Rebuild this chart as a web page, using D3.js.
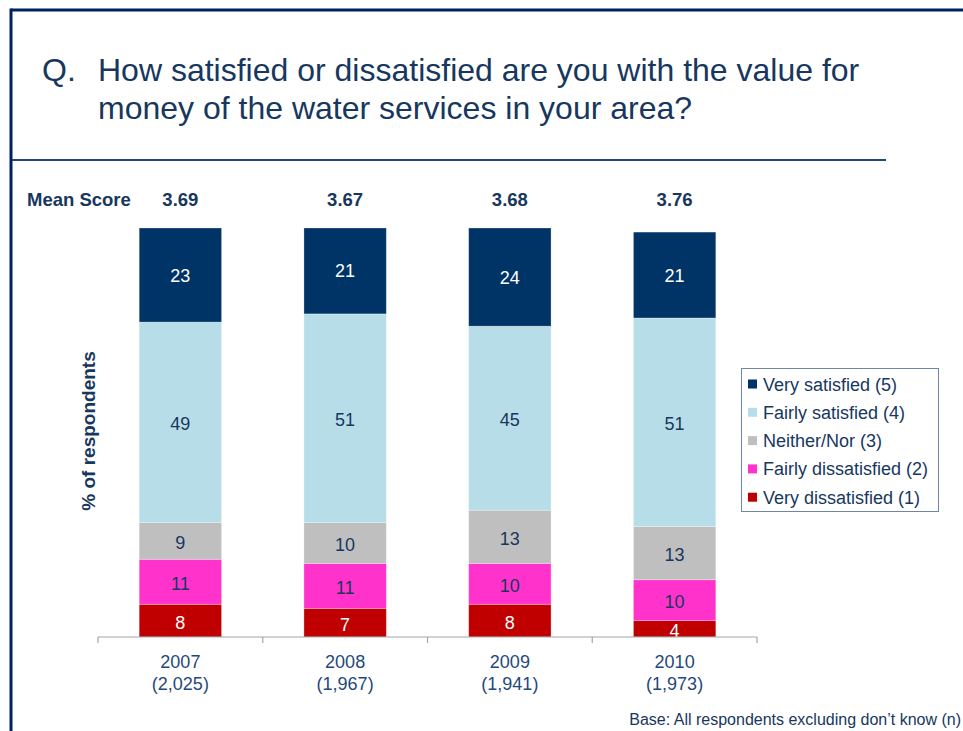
<!DOCTYPE html>
<html>
<head>
<meta charset="utf-8">
<script src="https://cdn.jsdelivr.net/npm/d3@7"></script>
<style>
  html, body { margin: 0; padding: 0; background: #fff; }
  svg { display: block; font-family: Arial, "Liberation Sans", sans-serif; }
</style>
</head>
<body>
<svg id="chart" width="963" height="731"></svg>
<script>
// Survey waves and their bases
const years = ["2007", "2008", "2009", "2010"];
const bases = ["(2,025)", "(1,967)", "(1,941)", "(1,973)"];
const meanScores = ["3.69", "3.67", "3.68", "3.76"];

// Percentage of respondents per answer, bottom to top of each bar
const veryDissatisfied   = [8, 7, 8, 4];
const fairlyDissatisfied = [11, 11, 10, 10];
const neitherNor         = [9, 10, 13, 13];
const fairlySatisfied    = [49, 51, 45, 51];
const verySatisfied      = [23, 21, 24, 21];

const seriesNames = ["Very dissatisfied (1)", "Fairly dissatisfied (2)", "Neither/Nor (3)", "Fairly satisfied (4)", "Very satisfied (5)"];
const seriesColors = ["#C00000", "#FF33CC", "#BFBFBF", "#B7DEE8", "#003366"];
const labelColors = ["#FFFFFF", "#17375E", "#17375E", "#17375E", "#FFFFFF"];
const seriesValues = [veryDissatisfied, fairlyDissatisfied, neitherNor, fairlySatisfied, verySatisfied];

const navy = "#17375E";
const svg = d3.select("#chart");

// Page frame
svg.append("line").attr("x1", 11).attr("x2", 963).attr("y1", 10).attr("y2", 10)
  .attr("stroke", "#002060").attr("stroke-width", 3);
svg.append("line").attr("x1", 11).attr("x2", 11).attr("y1", 8.5).attr("y2", 731)
  .attr("stroke", "#002060").attr("stroke-width", 3);

// Question title
const title = svg.append("g").attr("fill", navy).style("font-size", "32px");
title.append("text").attr("x", 42).attr("y", 81).text("Q.");
title.append("text").attr("x", 98).attr("y", 81).text("How satisfied or dissatisfied are you with the value for");
title.append("text").attr("x", 98).attr("y", 119).text("money of the water services in your area?");

svg.append("line").attr("x1", 12).attr("x2", 886).attr("y1", 160).attr("y2", 160)
  .attr("stroke", "#1F497D").attr("stroke-width", 2.2);

// Scales
const x = d3.scaleBand().domain(years).range([98, 757]).paddingInner(0.5).paddingOuter(0.25);
const y = d3.scaleLinear().domain([0, 100]).range([637, 228]);

const rows = years.map((yr, i) => {
  const r = { year: yr };
  seriesNames.forEach((s, k) => { r[s] = seriesValues[k][i]; });
  return r;
});
const stacked = d3.stack().keys(seriesNames)(rows);

// Bars
const layers = svg.append("g").selectAll("g").data(stacked).join("g")
  .attr("fill", (d, k) => seriesColors[k]);
layers.selectAll("rect").data(d => d).join("rect")
  .attr("x", d => x(d.data.year))
  .attr("width", x.bandwidth())
  .attr("y", d => y(d[1]))
  .attr("height", d => y(d[0]) - y(d[1]))
  .attr("stroke", "rgba(255,255,255,0.35)")
  .attr("stroke-width", 0.8);

// Segment labels
const labels = svg.append("g").style("font-size", "18px").attr("text-anchor", "middle");
stacked.forEach((layer, k) => {
  labels.selectAll(null).data(layer).join("text")
    .attr("x", d => x(d.data.year) + x.bandwidth() / 2)
    .attr("y", d => (y(d[0]) + y(d[1])) / 2 + (k === 4 ? 6.5 : 8))
    .attr("fill", labelColors[k])
    .text(d => d[1] - d[0]);
});

// Category axis with tick marks on the band boundaries
const axisG = svg.append("g").attr("transform", "translate(0,637)");
axisG.append("line").attr("x1", x.range()[0]).attr("x2", x.range()[1])
  .attr("stroke", "#A6A6A6").attr("stroke-width", 1.2);
const bounds = [x.range()[0]].concat(years.map(yr => x(yr) + x.bandwidth() + x.step() * x.paddingInner() / 2));
bounds[bounds.length - 1] = x.range()[1];
axisG.selectAll("line.tick").data(bounds).join("line").attr("class", "tick")
  .attr("x1", d => d).attr("x2", d => d).attr("y1", 0).attr("y2", 6)
  .attr("stroke", "#A6A6A6").attr("stroke-width", 1.2);

const xl = svg.append("g").attr("fill", "#1F497D").style("font-size", "18px").attr("text-anchor", "middle");
xl.selectAll("text.yr").data(years).join("text").attr("class", "yr")
  .attr("x", d => x(d) + x.bandwidth() / 2).attr("y", 668).text(d => d);
xl.selectAll("text.n").data(bases).join("text").attr("class", "n")
  .attr("x", (d, i) => x(years[i]) + x.bandwidth() / 2).attr("y", 690).text(d => d);

// Mean score row
const ms = svg.append("g").attr("fill", navy).style("font-size", "18.5px").style("font-weight", "bold");
ms.append("text").attr("x", 27).attr("y", 206).text("Mean Score");
ms.selectAll("text.m").data(meanScores).join("text").attr("class", "m")
  .attr("text-anchor", "middle")
  .attr("x", (d, i) => x(years[i]) + x.bandwidth() / 2).attr("y", 206).text(d => d);

// Y axis title
svg.append("text").attr("transform", "translate(94.5,431) rotate(-90)")
  .attr("text-anchor", "middle").attr("fill", navy)
  .style("font-size", "19px").style("font-weight", "bold")
  .text("% of respondents");

// Legend
const legend = svg.append("g");
legend.append("rect").attr("x", 741.5).attr("y", 368.5).attr("width", 197).attr("height", 143)
  .attr("fill", "#fff").attr("stroke", "#6F86A6").attr("stroke-width", 1);
const legendOrder = seriesNames.map((s, k) => k).reverse();
const items = legend.selectAll("g").data(legendOrder).join("g")
  .attr("transform", (k, i) => `translate(748,${384 + i * 28.3})`);
items.append("rect").attr("x", 0).attr("y", -4.5).attr("width", 9).attr("height", 9)
  .attr("fill", k => seriesColors[k]);
items.append("text").attr("x", 15).attr("y", 6.5).attr("fill", navy)
  .style("font-size", "18px").text(k => seriesNames[k]);

// Base note
svg.append("text").attr("x", 961).attr("y", 725).attr("text-anchor", "end")
  .attr("fill", navy).style("font-size", "16px")
  .text("Base: All respondents excluding don’t know (n)");
</script>
</body>
</html>
